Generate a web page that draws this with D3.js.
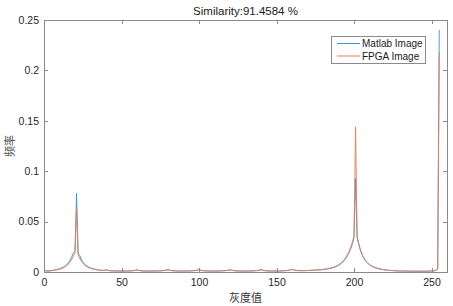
<!DOCTYPE html>
<html lang="zh">
<head>
<meta charset="UTF-8">
<title>Similarity histogram</title>
<script src="https://d3js.org/d3.v7.min.js"></script>
<style>
    body { margin: 0; background: #fff; }
    svg { display: block; font-family: "Liberation Sans", Arial, sans-serif; }
    .axis path, .axis line { stroke: #8a8a8a; shape-rendering: crispEdges; }
    .axis text { fill: #262626; font-size: 10.5px; }
</style>
</head>
<body>
<div id="chart"></div>
<script>
    // histogram of gray levels 0..255, one row per 16 bins
    const matlabImage = [
        0.003, 0.001, 0.001, 0.001, 0.0012, 0.0015, 0.0018, 0.002, 0.0024, 0.0028, 0.0033, 0.0039, 0.0046, 0.0055, 0.0066, 0.008,
        0.0098, 0.0122, 0.0155, 0.019, 0.021, 0.078, 0.019, 0.0165, 0.0128, 0.0102, 0.0083, 0.0068, 0.0057, 0.0048, 0.0041, 0.0035,
        0.003, 0.0027, 0.0024, 0.0021, 0.0019, 0.0017, 0.0016, 0.0017, 0.0021, 0.0019, 0.0015, 0.0013, 0.0012, 0.0011, 0.0011, 0.001,
        0.001, 0.001, 0.001, 0.001, 0.001, 0.001, 0.0011, 0.0011, 0.0012, 0.0013, 0.0015, 0.0017, 0.0021, 0.0017, 0.0014, 0.0012,
        0.0011, 0.001, 0.001, 0.001, 0.001, 0.001, 0.001, 0.001, 0.001, 0.0011, 0.0011, 0.0012, 0.0013, 0.0015, 0.0017, 0.002,
        0.0022, 0.0019, 0.0015, 0.0013, 0.0012, 0.0011, 0.001, 0.001, 0.001, 0.001, 0.001, 0.001, 0.001, 0.0011, 0.0011, 0.0012,
        0.0013, 0.0014, 0.0016, 0.0019, 0.0022, 0.0018, 0.0015, 0.0013, 0.0012, 0.0011, 0.001, 0.001, 0.001, 0.001, 0.001, 0.001,
        0.001, 0.0011, 0.0011, 0.0012, 0.0013, 0.0014, 0.0016, 0.0019, 0.0022, 0.0019, 0.0015, 0.0013, 0.0012, 0.0011, 0.001, 0.001,
        0.001, 0.001, 0.001, 0.001, 0.001, 0.001, 0.0011, 0.0012, 0.0013, 0.0014, 0.0016, 0.0019, 0.0023, 0.0019, 0.0015, 0.0013,
        0.0012, 0.0011, 0.001, 0.001, 0.001, 0.001, 0.001, 0.001, 0.001, 0.0011, 0.0012, 0.0013, 0.0014, 0.0016, 0.0019, 0.0022,
        0.0025, 0.0021, 0.0017, 0.0015, 0.0014, 0.0013, 0.0013, 0.0013, 0.0013, 0.0014, 0.0014, 0.0015, 0.0016, 0.0017, 0.0018, 0.0018,
        0.0018, 0.0019, 0.002, 0.0021, 0.0023, 0.0025, 0.0027, 0.003, 0.0033, 0.0036, 0.004, 0.0045, 0.005, 0.0057, 0.0065, 0.0075,
        0.0087, 0.0101, 0.0118, 0.014, 0.0167, 0.0198, 0.0235, 0.028, 0.034, 0.093, 0.034, 0.0275, 0.022, 0.0178, 0.0145, 0.012,
        0.01, 0.0085, 0.0072, 0.0062, 0.0054, 0.0047, 0.0041, 0.0036, 0.0032, 0.0029, 0.0026, 0.0023, 0.0021, 0.0019, 0.0017, 0.0016,
        0.0015, 0.0014, 0.0013, 0.0012, 0.0011, 0.0011, 0.001, 0.001, 0.001, 0.0009, 0.0009, 0.0009, 0.0008, 0.0008, 0.0008, 0.0008,
        0.0008, 0.0008, 0.0008, 0.0008, 0.0008, 0.0008, 0.0008, 0.0008, 0.0009, 0.0009, 0.001, 0.0011, 0.0013, 0.0018, 0.003, 0.24
    ];

    const fpgaImage = [
        0.0035, 0.0012, 0.001, 0.001, 0.0011, 0.0013, 0.0015, 0.0017, 0.002, 0.0023, 0.0027, 0.0032, 0.0038, 0.0045, 0.0054, 0.0066,
        0.0081, 0.0101, 0.0128, 0.016, 0.019, 0.064, 0.017, 0.0138, 0.0108, 0.0087, 0.0071, 0.0059, 0.005, 0.0043, 0.0037, 0.0032,
        0.0028, 0.0025, 0.0022, 0.002, 0.0018, 0.0016, 0.0015, 0.0016, 0.0019, 0.0017, 0.0014, 0.0012, 0.0011, 0.0011, 0.001, 0.001,
        0.001, 0.001, 0.001, 0.001, 0.001, 0.001, 0.001, 0.0011, 0.0011, 0.0012, 0.0014, 0.0016, 0.0019, 0.0016, 0.0013, 0.0012,
        0.0011, 0.001, 0.001, 0.001, 0.001, 0.001, 0.001, 0.001, 0.001, 0.001, 0.0011, 0.0011, 0.0012, 0.0014, 0.0016, 0.0018,
        0.0021, 0.0018, 0.0015, 0.0013, 0.0012, 0.0011, 0.001, 0.001, 0.001, 0.001, 0.001, 0.001, 0.001, 0.001, 0.0011, 0.0011,
        0.0012, 0.0013, 0.0015, 0.0018, 0.002, 0.0017, 0.0014, 0.0012, 0.0011, 0.0011, 0.001, 0.001, 0.001, 0.001, 0.001, 0.001,
        0.001, 0.001, 0.0011, 0.0011, 0.0012, 0.0013, 0.0015, 0.0018, 0.0021, 0.0018, 0.0014, 0.0012, 0.0011, 0.0011, 0.001, 0.001,
        0.001, 0.001, 0.001, 0.001, 0.001, 0.001, 0.001, 0.0011, 0.0012, 0.0013, 0.0015, 0.0018, 0.0022, 0.0018, 0.0014, 0.0012,
        0.0011, 0.0011, 0.001, 0.001, 0.001, 0.001, 0.001, 0.001, 0.001, 0.001, 0.0011, 0.0012, 0.0013, 0.0015, 0.0018, 0.0021,
        0.0026, 0.0022, 0.0018, 0.0016, 0.0015, 0.0014, 0.0014, 0.0014, 0.0014, 0.0015, 0.0015, 0.0016, 0.0017, 0.0018, 0.0019, 0.002,
        0.0021, 0.0022, 0.0023, 0.0025, 0.0027, 0.0029, 0.0031, 0.0034, 0.0037, 0.0041, 0.0045, 0.005, 0.0056, 0.0063, 0.0072, 0.0083,
        0.0097, 0.0112, 0.013, 0.0152, 0.018, 0.0213, 0.0252, 0.03, 0.036, 0.144, 0.036, 0.029, 0.0233, 0.0188, 0.0152, 0.0125,
        0.0104, 0.0088, 0.0075, 0.0064, 0.0056, 0.0049, 0.0043, 0.0038, 0.0033, 0.003, 0.0027, 0.0024, 0.0022, 0.002, 0.0018, 0.0016,
        0.0015, 0.0014, 0.0013, 0.0012, 0.0012, 0.0011, 0.0011, 0.001, 0.001, 0.001, 0.0009, 0.0009, 0.0009, 0.0009, 0.0008, 0.0008,
        0.0008, 0.0008, 0.0008, 0.0008, 0.0008, 0.0008, 0.0008, 0.0009, 0.0009, 0.001, 0.001, 0.0011, 0.0013, 0.0019, 0.0032, 0.218
    ];

    const xTicks = [0, 50, 100, 150, 200, 250];
    const yTicks = [0, 0.05, 0.1, 0.15, 0.2, 0.25];
    const seriesNames = ["Matlab Image", "FPGA Image"];
    const seriesColors = ["#3f8fd2", "#e27c55"];

    const W = 453, H = 306;
    const margin = {top: 20, right: 6, bottom: 34, left: 44};
    const width = W - margin.left - margin.right,
        height = H - margin.top - margin.bottom;

    const svg = d3.select("#chart")
        .append("svg")
        .attr("width", W)
        .attr("height", H);

    const g = svg.append("g")
        .attr("transform", `translate(${margin.left},${margin.top})`);

    const x = d3.scaleLinear().domain([0, 260]).range([0, width]);
    const y = d3.scaleLinear().domain([0, 0.25]).range([height, 0]);

    g.append("defs").append("clipPath").attr("id", "clip")
        .append("rect").attr("width", width).attr("height", height);

    // lines
    const line = d3.line()
        .x((d, i) => x(i))
        .y(d => y(d));

    [matlabImage, fpgaImage].forEach((s, k) => {
        g.append("path")
            .datum(s)
            .attr("clip-path", "url(#clip)")
            .attr("fill", "none")
            .attr("stroke", seriesColors[k])
            .attr("stroke-width", 0.9)
            .attr("d", line);
    });

    // axes, ticks pointing inward like matlab's box
    g.append("g").attr("class", "axis")
        .attr("transform", `translate(0,${height})`)
        .call(d3.axisBottom(x).tickValues(xTicks).tickSize(-4).tickPadding(7).tickSizeOuter(0));
    g.append("g").attr("class", "axis")
        .call(d3.axisTop(x).tickValues(xTicks).tickSize(-4).tickSizeOuter(0).tickFormat(""));
    g.append("g").attr("class", "axis")
        .call(d3.axisLeft(y).tickValues(yTicks).tickSize(-4).tickPadding(5).tickSizeOuter(0)
            .tickFormat(d => d3.format("")(+d.toFixed(2))));
    g.append("g").attr("class", "axis")
        .attr("transform", `translate(${width},0)`)
        .call(d3.axisRight(y).tickValues(yTicks).tickSize(-4).tickSizeOuter(0).tickFormat(""));

    // title and axis labels
    svg.append("text")
        .attr("x", margin.left + width / 2)
        .attr("y", 15)
        .attr("text-anchor", "middle")
        .style("font-size", "11.5px")
        .attr("fill", "#1a1a1a")
        .text("Similarity:91.4584 %");

    svg.append("text")
        .attr("x", margin.left + width / 2)
        .attr("y", 302)
        .attr("text-anchor", "middle")
        .style("font-family", "'Noto Sans CJK SC', sans-serif")
        .style("font-size", "11px")
        .attr("fill", "#333")
        .text("灰度值");

    svg.append("text")
        .attr("transform", `translate(14,${margin.top + height / 2}) rotate(-90)`)
        .attr("text-anchor", "middle")
        .style("font-family", "'Noto Sans CJK SC', sans-serif")
        .style("font-size", "11px")
        .attr("fill", "#555")
        .text("频率");

    // legend
    const legend = svg.append("g").attr("transform", "translate(331,36)");
    legend.append("rect")
        .attr("width", 94).attr("height", 27)
        .attr("fill", "#fff").attr("stroke", "#8a8a8a")
        .attr("shape-rendering", "crispEdges");
    const items = legend.selectAll(".legend-item")
        .data(seriesNames.map((name, i) => ({name, color: seriesColors[i]})))
        .enter().append("g")
        .attr("class", "legend-item")
        .attr("transform", (d, i) => `translate(0,${7.5 + i * 12.5})`);
    items.append("line")
        .attr("x1", 6).attr("x2", 29)
        .attr("stroke", d => d.color)
        .attr("stroke-width", 1);
    items.append("text")
        .attr("x", 31).attr("y", 3.5)
        .style("font-size", "10px")
        .attr("fill", "#1a1a1a")
        .text(d => d.name);
</script>
</body>
</html>
